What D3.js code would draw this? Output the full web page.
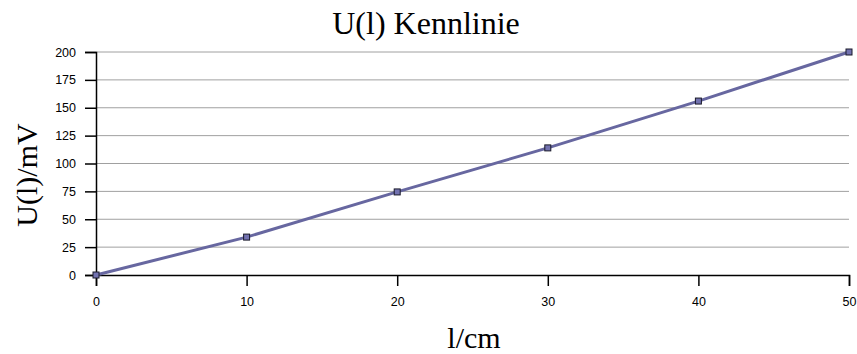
<!DOCTYPE html>
<html>
<head>
<meta charset="utf-8">
<script src="https://cdn.jsdelivr.net/npm/d3@7"></script>
<style>
  body { margin: 0; background: #fff; }
  svg { display: block; }
  .tick text { font-family: "Liberation Sans", Arial, sans-serif; font-size: 12.5px; fill: #000; }
  .ttl { font-family: "Liberation Serif", "Times New Roman", serif; fill: #000; }
</style>
</head>
<body>
<svg id="viz"></svg>
<script>
var width = 857, height = 354;

// data
let lengths = [0, 10, 20, 30, 40, 50];
let voltages = [0, 34, 74.5, 114, 156, 200];
let xTicks = [0, 10, 20, 30, 40, 50];
let yTicks = [0, 25, 50, 75, 100, 125, 150, 175, 200];

let margin = {left: 96, right: 8, top: 52, bottom: 79};

let svg = d3.select("#viz").attr("width", width).attr("height", height);

let x = d3.scaleLinear().domain([0, 50]).range([margin.left, width - margin.right]);
let y = d3.scaleLinear().domain([0, 200]).range([height - margin.bottom, margin.top]);

// grid lines
svg.append("g")
	.selectAll("line")
	.data(yTicks.filter(d => d > 0))
	.enter()
	.append("line")
	.attr("x1", x(0)).attr("x2", x(50))
	.attr("y1", d => y(d)).attr("y2", d => y(d))
	.attr("stroke", "#a0a0a0")
	.attr("stroke-width", 1);

// y axis
let yAxis = svg.append("g")
	.attr("transform", "translate(" + x(0) + ",0)")
	.call(d3.axisLeft(y).tickValues(yTicks).tickSize(11).tickPadding(9));
yAxis.select(".domain").attr("stroke", "#000").attr("stroke-width", 1.5);
yAxis.selectAll(".tick line").attr("stroke", "#000").attr("stroke-width", 1.5);

// x axis
let xAxis = svg.append("g")
	.attr("transform", "translate(0," + y(0) + ")")
	.call(d3.axisBottom(x).tickValues(xTicks).tickSize(11).tickPadding(11));
xAxis.select(".domain").attr("stroke", "#000").attr("stroke-width", 1.5);
xAxis.selectAll(".tick line").attr("stroke", "#000").attr("stroke-width", 1.5);

// line
let pts = lengths.map((l, i) => [l, voltages[i]]);
svg.append("path")
	.datum(pts)
	.attr("fill", "none")
	.attr("stroke", "#6767a0")
	.attr("stroke-width", 3)
	.attr("d", d3.line().x(d => x(d[0])).y(d => y(d[1])));

// markers
svg.append("g")
	.selectAll("rect")
	.data(pts)
	.enter()
	.append("rect")
	.attr("x", d => x(d[0]) - 3)
	.attr("y", d => y(d[1]) - 3)
	.attr("width", 6).attr("height", 6)
	.attr("fill", "#7272b0")
	.attr("stroke", "#1a1a2a")
	.attr("stroke-width", 1);

// titles
svg.append("text").attr("class", "ttl")
	.attr("x", 426).attr("y", 34)
	.attr("text-anchor", "middle")
	.style("font-size", "32px")
	.text("U(l) Kennlinie");

svg.append("text").attr("class", "ttl")
	.attr("x", 474).attr("y", 348)
	.attr("text-anchor", "middle")
	.style("font-size", "30px")
	.text("l/cm");

svg.append("text").attr("class", "ttl")
	.attr("transform", "translate(37,175) rotate(-90)")
	.attr("text-anchor", "middle")
	.style("font-size", "30px")
	.text("U(l)/mV");
</script>
</body>
</html>
